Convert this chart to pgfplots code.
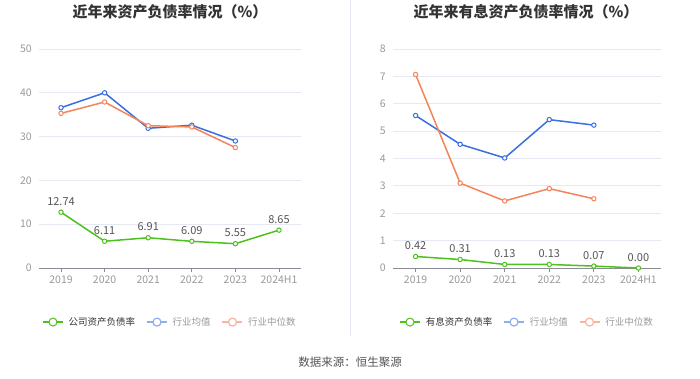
\documentclass[border=0pt]{standalone}
\usepackage{pgfplots}
\pgfplotsset{compat=1.18}
\usepackage{fontspec}
\setmainfont{Noto Sans CJK SC}
\definecolor{cgreen}{HTML}{4EC21C}
\definecolor{cblue}{HTML}{3A6FE0}
\definecolor{corange}{HTML}{F5845A}
\definecolor{lblue}{HTML}{8EAEF0}
\definecolor{lorange}{HTML}{F8B49C}
\definecolor{gridc}{HTML}{E6E9F1}
\definecolor{tickc}{HTML}{9A9A9A}
\definecolor{axisc}{HTML}{8A8D96}
\definecolor{labelc}{HTML}{555555}
\definecolor{titlec}{HTML}{333333}
\pgfplotsset{
  mystyle/.style={
    scale only axis, height=219pt,
    xmin=-0.5, xmax=5.5,
    xtick={0,...,5}, xticklabels={2019,2020,2021,2022,2023,2024H1},
    ymajorgrids, grid style={gridc, line width=0.8pt},
    axis x line*=bottom, axis y line*=left,
    x axis line style={-, axisc, line width=0.8pt},
    y axis line style={draw=none},
    ytick style={draw=none},
    xtick style={axisc, line width=0.8pt},
    tick align=outside, major tick length=4pt,
    tick label style={font=\fontsize{10.5}{12}\selectfont, color=tickc},
    /pgf/number format/assume math mode=true,
    clip=false,
    legend columns=3,
    legend style={draw=none, fill=none, at={(0.5,-0.247)}, anchor=center,
      font=\fontsize{9.5}{12}\selectfont,
      /tikz/every odd column/.append style={column sep=3pt},
      /tikz/every even column/.append style={column sep=9pt}},
    legend cell align=left,
    legend image code/.code={
      \draw[#1, mark=none] (0pt,0pt) -- (20pt,0pt);
      \draw[#1, mark size=4pt] plot coordinates {(10pt,0pt)};
    },
  },
  green/.style={cgreen, line width=1.5pt, mark=*, mark size=2.2pt,
    mark options={fill=white, draw=cgreen, line width=1pt},
    nodes near coords, point meta=explicit symbolic,
    every node near coord/.style={font=\fontsize{11}{13}\selectfont, color=labelc, anchor=south, yshift=3pt}},
  blue/.style={cblue, line width=1.5pt, mark=*, mark size=2.2pt,
    mark options={fill=white, draw=cblue, line width=1pt}},
  orange/.style={corange, line width=1.5pt, mark=*, mark size=2.2pt,
    mark options={fill=white, draw=corange, line width=1pt}},
  lblueimg/.style={lblue, line width=1.5pt, mark=*,
    mark options={fill=white, draw=lblue, line width=1.2pt}},
  lorangeimg/.style={lorange, line width=1.5pt, mark=*,
    mark options={fill=white, draw=lorange, line width=1.2pt}},
}
\begin{document}
\begin{tikzpicture}
\useasboundingbox[fill=white] (0,0) rectangle (700pt,378pt);
\draw[color=gridc, line width=0.8pt] (350pt,378pt) -- (350pt,42pt);
\node[font=\bfseries\fontsize{15}{17}\selectfont, color=titlec] at (170pt,366pt) {近年来资产负债率情况（\%）};
\node[font=\bfseries\fontsize{15}{17}\selectfont, color=titlec] at (526pt,366pt) {近年来有息资产负债率情况（\%）};
\node[font=\fontsize{11.5}{13}\selectfont, color=labelc] at (350pt,16pt) {数据来源：恒生聚源};

\begin{axis}[mystyle, at={(39.2pt,110pt)}, anchor=south west, width=261.6pt,
  ymin=0, ymax=50, ytick={0,10,20,30,40,50}]
\addplot[green] coordinates {(0,12.74)[12.74] (1,6.11)[6.11] (2,6.91)[6.91] (3,6.09)[6.09] (4,5.55)[5.55] (5,8.65)[8.65]};
\addlegendentry{\textcolor{titlec}{公司资产负债率}}
\addplot[blue, forget plot] coordinates {(0,36.6) (1,40.0) (2,31.9) (3,32.6) (4,29.0)};
\addplot[orange, forget plot] coordinates {(0,35.3) (1,37.9) (2,32.5) (3,32.2) (4,27.5)};
\addlegendimage{lblueimg}
\addlegendentry{\textcolor{tickc}{行业均值}}
\addlegendimage{lorangeimg}
\addlegendentry{\textcolor{tickc}{行业中位数}}
\end{axis}

\begin{axis}[mystyle, at={(393.3pt,110pt)}, anchor=south west, width=267.4pt,
  ymin=0, ymax=8, ytick={0,1,2,3,4,5,6,7,8}]
\addplot[green] coordinates {(0,0.42)[0.42] (1,0.31)[0.31] (2,0.13)[0.13] (3,0.13)[0.13] (4,0.07)[0.07] (5,0.00)[0.00]};
\addlegendentry{\textcolor{titlec}{有息资产负债率}}
\addplot[blue, forget plot] coordinates {(0,5.57) (1,4.52) (2,4.02) (3,5.42) (4,5.22)};
\addplot[orange, forget plot] coordinates {(0,7.07) (1,3.10) (2,2.45) (3,2.90) (4,2.53)};
\addlegendimage{lblueimg}
\addlegendentry{\textcolor{tickc}{行业均值}}
\addlegendimage{lorangeimg}
\addlegendentry{\textcolor{tickc}{行业中位数}}
\end{axis}
\end{tikzpicture}
\end{document}
